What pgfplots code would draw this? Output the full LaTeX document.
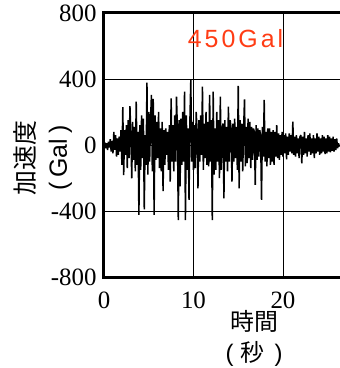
\documentclass[border=0pt]{standalone}
\usepackage{fontspec}
\setmainfont{Liberation Serif}
\newfontfamily\cjk{Noto Sans CJK JP}
\newfontfamily\lsans{Liberation Sans}
\newfontfamily\spaced[LetterSpace=12]{Liberation Sans}
\usepackage{pgfplots}
\pgfplotsset{compat=1.18}
\definecolor{galred}{RGB}{255,60,20}
\begin{document}
\begin{tikzpicture}
\begin{axis}[
  scale only axis,
  width=236bp, height=264bp,
  xmin=0, xmax=26.37, ymin=-800, ymax=800,
  xtick={0,10,20}, ytick={-800,-400,0,400,800},
  major tick length=0pt,
  grid=major,
  major grid style={black, line width=0.8bp},
  axis line style={draw=none},
  /pgf/number format/assume math mode=true,
  tick label style={font=\fontsize{25}{25}\selectfont},
  yticklabel style={xshift=-4bp},
  xticklabel style={yshift=-11bp},
  clip=false,
]
\addplot[black, line width=1.5bp, line join=bevel] table[row sep=\\] {
t v\\
0.0 0\\ 0.1 15\\ 0.2 -20\\ 0.3 10\\ 0.4 -30\\ 0.5 20\\ 0.6 -15\\ 0.7 35\\ 0.8 -40\\ 0.9 25\\
1.0 -50\\ 1.1 80\\ 1.2 -30\\ 1.3 60\\ 1.4 -70\\ 1.5 40\\ 1.6 -60\\ 1.7 50\\ 1.8 -40\\ 1.9 90\\
2.0 -120\\ 2.1 230\\ 2.2 -182\\ 2.3 90\\ 2.4 -60\\ 2.5 120\\ 2.6 -140\\ 2.7 150\\ 2.8 -80\\ 2.9 236\\
3.0 60\\ 3.1 -202\\ 3.2 140\\ 3.3 -90\\ 3.4 110\\ 3.5 -160\\ 3.6 263\\ 3.7 -120\\ 3.8 80\\ 3.9 -424\\
4.0 120\\ 4.1 -150\\ 4.2 180\\ 4.3 -80\\ 4.4 160\\ 4.5 -390\\ 4.6 60\\ 4.7 -120\\ 4.8 378\\ 4.9 -180\\
5.0 200\\ 5.1 -100\\ 5.2 150\\ 5.3 303\\ 5.4 -160\\ 5.5 280\\ 5.6 -424\\ 5.7 180\\ 5.8 -90\\ 5.9 140\\
6.0 -80\\ 6.1 200\\ 6.2 -140\\ 6.3 100\\ 6.4 -160\\ 6.5 140\\ 6.6 -279\\ 6.7 90\\ 6.8 -120\\ 6.9 100\\
7.0 -60\\ 7.1 80\\ 7.2 -150\\ 7.3 120\\ 7.4 -222\\ 7.5 283\\ 7.6 -100\\ 7.7 120\\ 7.8 -160\\ 7.9 180\\
8.0 -100\\ 8.1 293\\ 8.2 100\\ 8.3 -455\\ 8.4 150\\ 8.5 -250\\ 8.6 160\\ 8.7 -120\\ 8.8 200\\ 8.9 -100\\
9.0 323\\ 9.1 -455\\ 9.2 180\\ 9.3 -150\\ 9.4 100\\ 9.5 -333\\ 9.6 150\\ 9.7 394\\ 9.8 -100\\ 9.9 140\\
10.0 -150\\ 10.1 120\\ 10.2 -140\\ 10.3 200\\ 10.4 90\\ 10.5 -263\\ 10.6 150\\ 10.7 -100\\ 10.8 180\\ 10.9 -60\\
11.0 354\\ 11.1 -150\\ 11.2 130\\ 11.3 -80\\ 11.4 200\\ 11.5 -120\\ 11.6 140\\ 11.7 -130\\ 11.8 303\\ 11.9 -100\\
12.0 150\\ 12.1 -455\\ 12.2 323\\ 12.3 -180\\ 12.4 100\\ 12.5 -150\\ 12.6 200\\ 12.7 -100\\ 12.8 150\\ 12.9 -200\\
13.0 293\\ 13.1 -150\\ 13.2 100\\ 13.3 130\\ 13.4 -323\\ 13.5 150\\ 13.6 -100\\ 13.7 110\\ 13.8 -160\\ 13.9 232\\
14.0 -100\\ 14.1 150\\ 14.2 100\\ 14.3 -222\\ 14.4 130\\ 14.5 -100\\ 14.6 160\\ 14.7 -80\\ 14.8 110\\ 14.9 -150\\
15.0 358\\ 15.1 -263\\ 15.2 150\\ 15.3 -100\\ 15.4 130\\ 15.5 -160\\ 15.6 100\\ 15.7 277\\ 15.8 -130\\ 15.9 110\\
16.0 -110\\ 16.1 160\\ 16.2 -80\\ 16.3 140\\ 16.4 -140\\ 16.5 110\\ 16.6 -90\\ 16.7 100\\ 16.8 80\\ 16.9 -242\\
17.0 120\\ 17.1 -90\\ 17.2 100\\ 17.3 -70\\ 17.4 90\\ 17.5 60\\ 17.6 -333\\ 17.7 110\\ 17.8 -70\\ 17.9 273\\
18.0 -100\\ 18.1 80\\ 18.2 -130\\ 18.3 100\\ 18.4 -80\\ 18.5 100\\ 18.6 -120\\ 18.7 80\\ 18.8 -100\\ 18.9 90\\
19.0 -121\\ 19.1 80\\ 19.2 -70\\ 19.3 121\\ 19.4 -80\\ 19.5 70\\ 19.6 -90\\ 19.7 60\\ 19.8 -60\\ 19.9 80\\
20.0 -70\\ 20.1 60\\ 20.2 -50\\ 20.3 70\\ 20.4 -87\\ 20.5 50\\ 20.6 -60\\ 20.7 70\\ 20.8 -40\\ 20.9 60\\
21.0 -50\\ 21.1 141\\ 21.2 -60\\ 21.3 50\\ 21.4 -70\\ 21.5 60\\ 21.6 -50\\ 21.7 40\\ 21.8 -80\\ 21.9 50\\
22.0 60\\ 22.1 -111\\ 22.2 50\\ 22.3 -60\\ 22.4 80\\ 22.5 -50\\ 22.6 40\\ 22.7 -70\\ 22.8 60\\ 22.9 -40\\
23.0 70\\ 23.1 -60\\ 23.2 40\\ 23.3 -50\\ 23.4 60\\ 23.5 -80\\ 23.6 40\\ 23.7 -50\\ 23.8 70\\ 23.9 -40\\
24.0 50\\ 24.1 -60\\ 24.2 40\\ 24.3 -50\\ 24.4 60\\ 24.5 -40\\ 24.6 50\\ 24.7 -55\\ 24.8 40\\ 24.9 -50\\
25.0 60\\ 25.1 -40\\ 25.2 50\\ 25.3 -45\\ 25.4 40\\ 25.5 -35\\ 25.6 50\\ 25.7 -40\\ 25.8 35\\ 25.9 -30\\
26.0 40\\ 26.1 -20\\ 26.2 10\\ 26.3 -10\\
};
\draw[black, line width=3bp, line cap=rect]
  (rel axis cs:1.05,1) -- (rel axis cs:0,1) -- (rel axis cs:0,0) -- (rel axis cs:1.05,0);
\node[text=galred, font=\spaced\fontsize{25}{25}\selectfont, anchor=base] at (axis cs:14.7,590) {450Gal};
\node[font=\cjk\fontsize{25}{33}\selectfont, rotate=90, align=center] at (rel axis cs:-0.26,0.45) {加速度\\{\lsans(\hspace{5bp}Gal\hspace{5bp})}};
\node[font=\cjk\fontsize{24}{31}\selectfont, align=center] at (rel axis cs:0.636,-0.232) {時間\\{\lsans(}\hspace{7bp}秒\hspace{10bp}{\lsans)}};
\coordinate (bl) at (rel axis cs:0,0);
\end{axis}
\pgfresetboundingbox
\path ([shift={(-104bp,-91bp)}]bl) rectangle ([shift={(236bp,277bp)}]bl);
\end{tikzpicture}
\end{document}
